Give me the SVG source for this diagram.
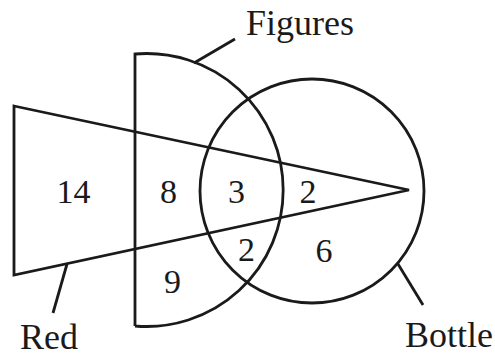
<svg xmlns="http://www.w3.org/2000/svg" width="495" height="357" viewBox="0 0 495 357">
<style>
.s{fill:none;stroke:#1a1a1a;stroke-width:2.8;stroke-linejoin:miter}
.t{font-family:'Liberation Serif','Times New Roman',serif;font-size:34px;fill:#1a1a1a}
.l{font-size:36px}
.n{text-anchor:middle}
</style>
<rect width="495" height="357" fill="#ffffff"/>
<g id="red">
<polygon class="s" points="14,106 409,190 14,275"/>
</g>
<g id="figures">
<path class="s" d="M135,326 L135,54 A136.5,136.5 0 1 1 135,326"/>
</g>
<g id="bottle">
<circle class="s" cx="312" cy="191" r="112"/>
</g>
<g id="connectors">
<line class="s" x1="194" y1="63" x2="235" y2="39"/>
<line class="s" x1="67" y1="264" x2="53" y2="313"/>
<line class="s" x1="398" y1="264" x2="423" y2="305"/>
</g>
<g id="labels">
<text class="t l" x="246" y="35">Figures</text>
<text class="t l" x="20" y="349">Red</text>
<text class="t l" x="405" y="347">Bottle</text>
</g>
<g id="counts">
<text class="t n" x="73.5" y="203">14</text>
<text class="t n" x="168.5" y="203">8</text>
<text class="t n" x="236.5" y="203">3</text>
<text class="t n" x="308" y="203">2</text>
<text class="t n" x="246.5" y="261">2</text>
<text class="t n" x="324" y="262">6</text>
<text class="t n" x="172.5" y="293">9</text>
</g>
</svg>
